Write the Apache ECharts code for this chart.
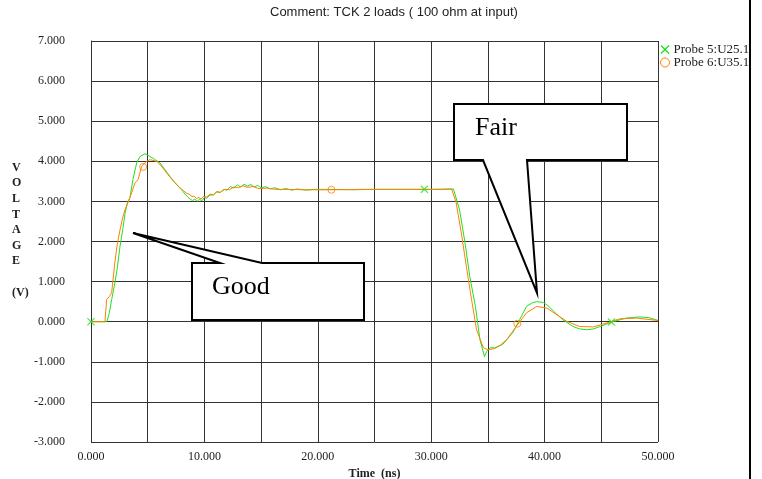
<!DOCTYPE html>
<html>
<head>
<meta charset="utf-8">
<script src="https://cdn.jsdelivr.net/npm/echarts@6/dist/echarts.min.js"></script>
<style>
  html, body { margin: 0; padding: 0; background: #fff; }
  #chart { width: 762px; height: 479px; }
</style>
</head>
<body>
<div id="chart"></div>
<script>
// Probe 5 (green)
const probe5T = [0, 1.4, 1.6, 1.82, 2.1, 2.3, 2.56, 2.8, 3.0, 3.2, 3.44, 3.7, 4.03, 4.32, 4.76, 5.2, 5.6, 6.08, 6.5, 6.97, 7.4, 7.85, 8.1, 8.3, 8.5, 8.73, 8.95, 9.15, 9.35, 9.55, 9.8, 10.0, 10.2, 10.5, 10.8, 11.1, 11.4, 11.7, 12.0, 12.3, 12.6, 12.9, 13.2, 13.5, 13.8, 14.1, 14.4, 14.7, 15.0, 15.4, 15.8, 16.2, 16.7, 17.2, 17.7, 18.2, 19.0, 19.6, 21, 23, 25, 27, 29.4, 31, 31.96, 32.5, 32.98, 33.4, 33.9, 34.3, 34.7, 34.9, 35.2, 35.6, 36.3, 37.2, 37.8, 38.4, 38.9, 39.3, 39.9, 40.3, 40.8, 41.6, 42.5, 43.1, 43.7, 44.3, 44.9, 45.9, 47.2, 48.4, 49.2, 50]
const probe5V = [0, 0, 0.2, 0.55, 0.96, 1.3, 1.88, 2.3, 2.7, 2.95, 3.1, 3.55, 3.96, 4.12, 4.19, 4.12, 4.05, 3.96, 3.8, 3.62, 3.47, 3.33, 3.25, 3.18, 3.12, 3.06, 3.02, 3.06, 3.0, 3.05, 3.02, 3.1, 3.08, 3.16, 3.16, 3.24, 3.22, 3.3, 3.28, 3.37, 3.33, 3.41, 3.36, 3.43, 3.38, 3.42, 3.36, 3.4, 3.34, 3.37, 3.31, 3.34, 3.29, 3.32, 3.28, 3.31, 3.28, 3.3, 3.3, 3.29, 3.3, 3.3, 3.3, 3.3, 3.31, 2.79, 1.97, 1.13, 0.38, -0.45, -0.87, -0.74, -0.65, -0.65, -0.57, -0.27, 0.05, 0.38, 0.47, 0.5, 0.48, 0.4, 0.26, 0.05, -0.12, -0.18, -0.2, -0.18, -0.12, -0.01, 0.09, 0.12, 0.1, 0.03]
const probe5MarkT = [0, 29.4, 45.9]
const probe5MarkV = [0, 3.3, -0.01]

// Probe 6 (orange)
const probe6T = [0, 1.23, 1.38, 1.6, 1.82, 2.1, 2.3, 2.56, 2.8, 3.0, 3.44, 3.88, 4.15, 4.47, 4.9, 5.2, 5.8, 6.2, 6.67, 7.1, 7.55, 8.0, 8.4, 8.65, 8.9, 9.1, 9.3, 9.5, 9.7, 9.9, 10.2, 10.5, 10.8, 11.1, 11.4, 11.8, 12.2, 12.6, 13.0, 13.4, 13.8, 14.3, 14.8, 15.5, 16.3, 17, 19, 21.2, 24, 27, 30, 31.8, 32.2, 32.7, 33.1, 33.56, 34.0, 34.6, 35.0, 35.6, 36.1, 36.65, 37.5, 38.4, 39.3, 40.2, 41.1, 41.95, 43.1, 44.3, 45.5, 46.6, 48.1, 50]
const probe6V = [0, 0, 0.55, 0.62, 0.72, 1.47, 1.9, 2.29, 2.6, 2.79, 3.1, 3.46, 3.54, 3.88, 4.0, 4.04, 4.0, 3.88, 3.71, 3.56, 3.42, 3.3, 3.21, 3.18, 3.12, 3.13, 3.07, 3.1, 3.06, 3.12, 3.11, 3.18, 3.17, 3.24, 3.23, 3.3, 3.29, 3.36, 3.34, 3.39, 3.35, 3.37, 3.32, 3.33, 3.3, 3.3, 3.29, 3.29, 3.3, 3.3, 3.3, 3.31, 2.97, 2.13, 1.38, 0.55, -0.2, -0.65, -0.7, -0.67, -0.58, -0.45, -0.12, 0.22, 0.38, 0.34, 0.17, 0.01, -0.12, -0.13, -0.03, 0.07, 0.09, 0.03]
const probe6MarkT = [4.6, 21.2, 37.6]
const probe6MarkV = [3.86, 3.29, -0.05]

const seriesNames = ['Probe 5:U25.1', 'Probe 6:U35.1']
const green = '#1fe01f'
const orange = '#ff8000'
const gridColor = '#333'
const serif = '"Liberation Serif", "Times New Roman", serif'
const crossPath = 'path://M0,1L1,0L5,4L9,0L10,1L6,5L10,9L9,10L5,6L1,10L0,9L4,5Z'

const zip = (ts, vs) => ts.map((t, i) => [t, vs[i]])

const chart = echarts.init(document.getElementById('chart'))

chart.setOption({
  animation: false,
  title: {
    text: 'Comment: TCK 2 loads ( 100 ohm at input)',
    left: 265,
    top: 1,
    textStyle: { fontFamily: '"Liberation Sans", Arial, sans-serif', fontSize: 13, fontWeight: 'normal', color: '#222' }
  },
  legend: {
    orient: 'vertical',
    left: 660,
    top: 43,
    padding: 0,
    itemWidth: 9,
    itemHeight: 9,
    itemGap: 0,
    textStyle: { fontFamily: serif, fontSize: 13, lineHeight: 12, color: '#222', padding: [0, 0, 0, -1] },
    data: [
      { name: seriesNames[0], icon: crossPath, itemStyle: { color: green, borderWidth: 0 } },
      { name: seriesNames[1], icon: 'circle', itemStyle: { color: '#fff', borderColor: orange, borderWidth: 1 } }
    ]
  },
  grid: { left: 91, right: 104, top: 41, bottom: 37, outerBoundsMode: 'none' },
  xAxis: {
    type: 'value',
    min: 0,
    max: 50,
    interval: 5,
    name: 'Time  (ns)',
    nameLocation: 'middle',
    nameGap: 20,
    nameTextStyle: { fontFamily: serif, fontSize: 12, fontWeight: 'bold', color: '#222' },
    axisLine: { show: true, lineStyle: { color: gridColor, width: 1 } },
    axisTick: { show: false },
    axisLabel: {
      margin: 9,
      fontFamily: serif,
      fontSize: 12,
      color: '#222',
      formatter: v => (v % 10 === 0 ? v.toFixed(3) : '')
    },
    splitLine: { show: true, lineStyle: { color: gridColor, width: 1 } }
  },
  yAxis: {
    type: 'value',
    min: -3,
    max: 7,
    interval: 1,
    axisLine: { show: true, lineStyle: { color: gridColor, width: 1 } },
    axisTick: { show: false },
    axisLabel: {
      margin: 26,
      fontFamily: serif,
      fontSize: 12,
      color: '#222',
      formatter: v => v.toFixed(3)
    },
    splitLine: { show: true, lineStyle: { color: gridColor, width: 1 } }
  },
  series: [
    {
      name: seriesNames[0],
      type: 'line',
      data: zip(probe5T, probe5V),
      showSymbol: false,
      lineStyle: { color: green, width: 1 },
      itemStyle: { color: green },
      z: 3
    },
    {
      name: seriesNames[1],
      type: 'line',
      data: zip(probe6T, probe6V),
      showSymbol: false,
      lineStyle: { color: orange, width: 1 },
      itemStyle: { color: orange },
      z: 3
    },
    {
      name: seriesNames[0],
      type: 'scatter',
      data: zip(probe5MarkT, probe5MarkV),
      symbol: crossPath,
      symbolSize: 8,
      itemStyle: { color: green },
      z: 4
    },
    {
      name: seriesNames[1],
      type: 'scatter',
      data: zip(probe6MarkT, probe6MarkV),
      symbol: 'circle',
      symbolSize: 7,
      itemStyle: { color: 'rgba(0,0,0,0)', borderColor: orange, borderWidth: 1 },
      z: 4
    }
  ],
  graphic: [
    {
      type: 'text',
      left: 12,
      top: 160,
      style: {
        text: 'V\nO\nL\nT\nA\nG\nE\n\n(V)',
        fontFamily: serif,
        fontSize: 12,
        fontWeight: 'bold',
        lineHeight: 15.6,
        align: 'center',
        fill: '#222'
      },
      x: 6
    },
    {
      type: 'polygon',
      z: 10,
      shape: { points: [[454, 104], [627, 104], [627, 160], [527, 160], [537, 293], [483, 160], [454, 160]] },
      style: { fill: '#fff', stroke: '#000', lineWidth: 2 }
    },
    {
      type: 'text',
      z: 11,
      left: 475,
      top: 115,
      style: { text: 'Fair', fontFamily: serif, fontSize: 26, fill: '#000' }
    },
    {
      type: 'polygon',
      z: 10,
      shape: { points: [[192, 263], [220, 263], [133, 233], [262, 263], [364, 263], [364, 320], [192, 320]] },
      style: { fill: '#fff', stroke: '#000', lineWidth: 2 }
    },
    {
      type: 'text',
      z: 11,
      left: 212,
      top: 274,
      style: { text: 'Good', fontFamily: serif, fontSize: 26, fill: '#000' }
    },
    {
      type: 'line',
      z: 12,
      shape: { x1: 750, y1: 0, x2: 750, y2: 479 },
      style: { stroke: '#000', lineWidth: 2 }
    }
  ]
})
</script>
</body>
</html>
